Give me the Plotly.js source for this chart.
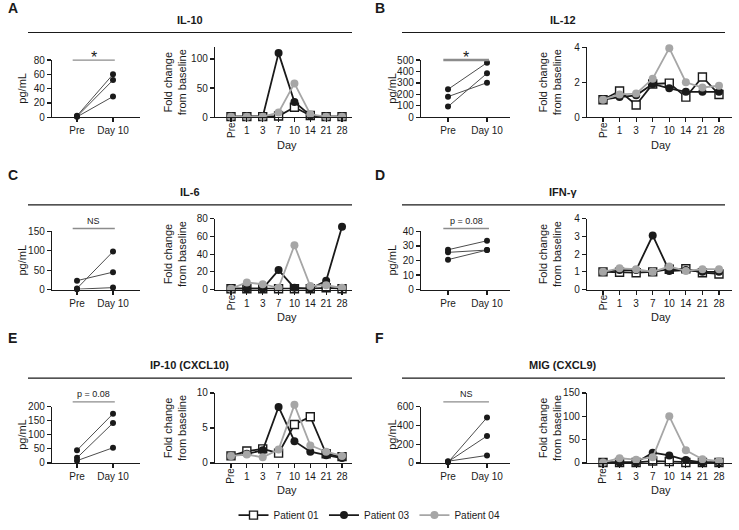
<!DOCTYPE html>
<html>
<head>
<meta charset="utf-8">
<script src="https://cdn.plot.ly/plotly-3.0.1.min.js"></script>
<style>body{margin:0;} #chart{width:739px;height:530px;}</style>
</head>
<body>
<div id="chart"></div>
<script>
const W = 739, H = 530;
const days = ['Pre', '1', '3', '7', '10', '14', '21', '28'];
const patients = ['Patient 01', 'Patient 03', 'Patient 04'];
const timepoints = ['Pre', 'Day 10'];

// pg/mL at Pre and Day 10, one pair per patient
const il10Pre = [2, 1, 0.5];
const il10Day10 = [60, 52, 29];
const il12Pre = [244, 180, 93];
const il12Day10 = [477, 302, 384];
const il6Pre = [1, 23, 3];
const il6Day10 = [5, 45, 98];
const ifngPre = [27.4, 25.6, 20.6];
const ifngDay10 = [33.6, 27.2, 27.2];
const ip10Pre = [45, 18, 8];
const ip10Day10 = [175, 142, 54];
const migPre = [18, 12, 6];
const migDay10 = [80, 288, 485];

// fold change from baseline, per patient, per day
const il10P01 = [1, 1, 1, 2, 17, 3, 1, 1];
const il10P03 = [1, 1, 1, 110, 26, 3, 1, 1];
const il10P04 = [1, 1, 1, 8, 58, 5, 1, 1];
const il12P01 = [1.0, 1.5, 0.7, 1.9, 1.95, 1.15, 2.3, 1.3];
const il12P03 = [1.0, 1.15, 1.25, 1.9, 1.65, 1.45, 1.45, 1.45];
const il12P04 = [1.0, 1.3, 1.35, 2.2, 3.95, 2.0, 1.7, 1.8];
const il6P01 = [1, 1, 1, 1, 1, 1, 2, 1];
const il6P03 = [1, 1, 1, 22, 2, 1, 10, 71];
const il6P04 = [1, 8, 6, 2, 50, 4, 5, 2];
const ifngP01 = [1, 0.98, 0.95, 1.0, 1.15, 1.17, 0.95, 0.88];
const ifngP03 = [1, 1.1, 1.1, 3.05, 1.05, 1.1, 1.0, 1.0];
const ifngP04 = [1, 1.2, 1.15, 1.0, 1.3, 1.05, 1.15, 1.15];
const ip10P01 = [1, 1.7, 2.0, 1.4, 5.5, 6.6, 1.3, 0.9];
const ip10P03 = [1, 1.3, 1.8, 8.0, 3.1, 1.6, 1.1, 0.7];
const ip10P04 = [1, 1.2, 0.8, 1.9, 8.3, 2.5, 1.6, 1.0];
const migP01 = [1, 1, 1, 4, 3, 1, 1, 1];
const migP03 = [1, 1, 1, 22, 16, 6, 1, 1];
const migP04 = [1, 10, 7, 12, 100, 27, 8, 4];

const panels = [
  {letter: 'A', title: 'IL-10', pre: il10Pre, d10: il10Day10, fold: [il10P01, il10P03, il10P04],
   leftMax: 80, leftDtick: 20, rightMax: 120, rightDtick: 50, sig: '*'},
  {letter: 'B', title: 'IL-12', pre: il12Pre, d10: il12Day10, fold: [il12P01, il12P03, il12P04],
   leftMax: 500, leftDtick: 100, rightMax: 4, rightDtick: 2, sig: '*'},
  {letter: 'C', title: 'IL-6', pre: il6Pre, d10: il6Day10, fold: [il6P01, il6P03, il6P04],
   leftMax: 150, leftDtick: 50, rightMax: 80, rightDtick: 20, sig: 'NS'},
  {letter: 'D', title: 'IFN-γ', pre: ifngPre, d10: ifngDay10, fold: [ifngP01, ifngP03, ifngP04],
   leftMax: 40, leftDtick: 10, rightMax: 4, rightDtick: 1, sig: 'p = 0.08'},
  {letter: 'E', title: 'IP-10 (CXCL10)', pre: ip10Pre, d10: ip10Day10, fold: [ip10P01, ip10P03, ip10P04],
   leftMax: 200, leftDtick: 50, rightMax: 10, rightDtick: 5, sig: 'p = 0.08'},
  {letter: 'F', title: 'MIG (CXCL9)', pre: migPre, d10: migDay10, fold: [migP01, migP03, migP04],
   leftMax: 600, leftDtick: 200, rightMax: 150, rightDtick: 50, sig: 'NS'}
];

// page geometry in pixels
const cols = [
  {letterX: 6, titleX: 190, lineX: [28, 352], left: [52, 140], preL: 77, d10L: 113,
   right: [215, 352], preR: 231, stepR: 15.86, pgX: 22, foldX: 175},
  {letterX: 373, titleX: 563, lineX: [402, 725], left: [421, 510], preL: 448, d10L: 487,
   right: [587, 732], preR: 603, stepR: 16.57, pgX: 392, foldX: 550}
];
const rows = [
  {letterY: 8, titleY: 20, lineY: 33, rightTop: 48, leftTop: 61, bottom: 119, sigY: 61},
  {letterY: 178, titleY: 195, lineY: 208, rightTop: 222, leftTop: 235, bottom: 294, sigY: 232},
  {letterY: 343, titleY: 371, lineY: 384, rightTop: 399, leftTop: 413, bottom: 470, sigY: 408}
];

const fx = px => px / W;
const fy = py => 1 - py / H;
const FONT = 'Liberation Sans, Arial, sans-serif';
const INK = '#1a1a1a';
const GREY = '#a6a6a6';

const styles = [
  {line: {color: INK, width: 1.8}, marker: {symbol: 'square', size: 8, color: 'white', line: {color: INK, width: 1.4}}},
  {line: {color: INK, width: 1.8}, marker: {symbol: 'circle', size: 8, color: INK}},
  {line: {color: GREY, width: 1.8}, marker: {symbol: 'circle', size: 8, color: GREY}}
];

const traces = [];
const shapes = [];
const annotations = [];
const layout = {
  width: W, height: H,
  margin: {l: 0, r: 0, t: 0, b: 0},
  paper_bgcolor: 'white', plot_bgcolor: 'white',
  font: {family: FONT, size: 10, color: INK},
  showlegend: true,
  legend: {orientation: 'h', x: 0.5, xanchor: 'center', y: fy(523), yanchor: 'middle',
           font: {size: 10}, itemwidth: 30, traceorder: 'normal'},
  shapes: shapes, annotations: annotations
};

function axisBase() {
  return {showline: true, linecolor: INK, linewidth: 1.2, ticks: 'outside', ticklen: 4,
          tickwidth: 1.2, tickcolor: INK, showgrid: false, zeroline: false, fixedrange: true,
          tickfont: {size: 10, color: INK}};
}

function note(text, xref, x, py, extra) {
  annotations.push(Object.assign({text: text, xref: xref, yref: 'paper', x: x, y: fy(py),
    xanchor: 'center', yanchor: 'middle', showarrow: false}, extra));
}

panels.forEach((p, k) => {
  const c = cols[k % 2], r = rows[Math.floor(k / 2)];
  const nL = 2 * k + 1, nR = 2 * k + 2;
  const xl = 'x' + nL, yl = 'y' + nL, xr = 'x' + nR, yr = 'y' + nR;

  // left: Pre vs Day 10
  const uL = c.d10L - c.preL;
  layout['xaxis' + nL] = Object.assign(axisBase(), {
    domain: [fx(c.left[0]), fx(c.left[1])], anchor: yl,
    range: [(c.left[0] - c.preL) / uL, (c.left[1] - c.preL) / uL],
    tickvals: [0, 1], ticktext: timepoints
  });
  layout['yaxis' + nL] = Object.assign(axisBase(), {
    domain: [fy(r.bottom), fy(r.leftTop)], anchor: xl,
    range: [0, p.leftMax], dtick: p.leftDtick
  });
  p.pre.forEach((v, i) => {
    traces.push({
      x: [0, 1], y: [v, p.d10[i]], xaxis: xl, yaxis: yl, type: 'scatter', mode: 'lines+markers',
      line: {color: '#4d4d4d', width: 1}, marker: {color: INK, size: 6}, cliponaxis: false,
      showlegend: false, hoverinfo: 'y'
    });
  });

  // right: fold change over time
  layout['xaxis' + nR] = Object.assign(axisBase(), {
    domain: [fx(c.right[0]), fx(c.right[1])], anchor: yr,
    range: [(c.right[0] - c.preR) / c.stepR, (c.right[1] - c.preR) / c.stepR],
    tickvals: days.map((d, i) => i), ticktext: days.map(d => d === 'Pre' ? '' : d)
  });
  layout['yaxis' + nR] = Object.assign(axisBase(), {
    domain: [fy(r.bottom), fy(r.rightTop)], anchor: xr,
    range: [0, p.rightMax], dtick: p.rightDtick
  });
  p.fold.forEach((vals, i) => {
    traces.push(Object.assign({
      x: days.map((d, j) => j), y: vals, xaxis: xr, yaxis: yr, type: 'scatter',
      mode: 'lines+markers', name: patients[i], cliponaxis: false,
      showlegend: k === 0, legendgroup: patients[i]
    }, styles[i]));
  });

  // panel letter, heading and rule
  note('<b>' + p.letter + '</b>', 'paper', fx(c.letterX), r.letterY, {xanchor: 'left', font: {size: 14}});
  note('<b>' + p.title + '</b>', 'paper', fx(c.titleX), r.titleY, {font: {size: 11}});
  shapes.push({type: 'line', xref: 'paper', yref: 'paper', x0: fx(c.lineX[0]), x1: fx(c.lineX[1]),
    y0: fy(r.lineY), y1: fy(r.lineY), line: {color: INK, width: 1.2}});

  // significance bar
  shapes.push({type: 'line', xref: xl, yref: 'paper', x0: -0.12, x1: 1.05,
    y0: fy(r.sigY), y1: fy(r.sigY), line: {color: '#8c8c8c', width: k === 1 ? 2.5 : 1.3}});
  if (p.sig === '*') {
    note('*', xl, 0.47, r.sigY + 8, {yanchor: 'bottom', font: {size: 16}});
  } else {
    note(p.sig, xl, 0.47, r.sigY - 1, {yanchor: 'bottom', font: {size: 9}});
  }

  // axis titles and the rotated Pre label
  note('pg/mL', 'paper', fx(c.pgX), (r.leftTop + r.bottom) / 2, {textangle: -90, font: {size: 11}});
  note('Fold change<br>from baseline', 'paper', fx(c.foldX), (r.rightTop + r.bottom) / 2,
    {textangle: -90, font: {size: 11}});
  note('Pre', xr, 0, r.bottom + 13, {textangle: -90, font: {size: 10}});
  note('Day', xr, 3.5, r.bottom + 28, {font: {size: 11}});
});

Plotly.newPlot('chart', traces, layout, {displayModeBar: false, staticPlot: true});
</script>
</body>
</html>
